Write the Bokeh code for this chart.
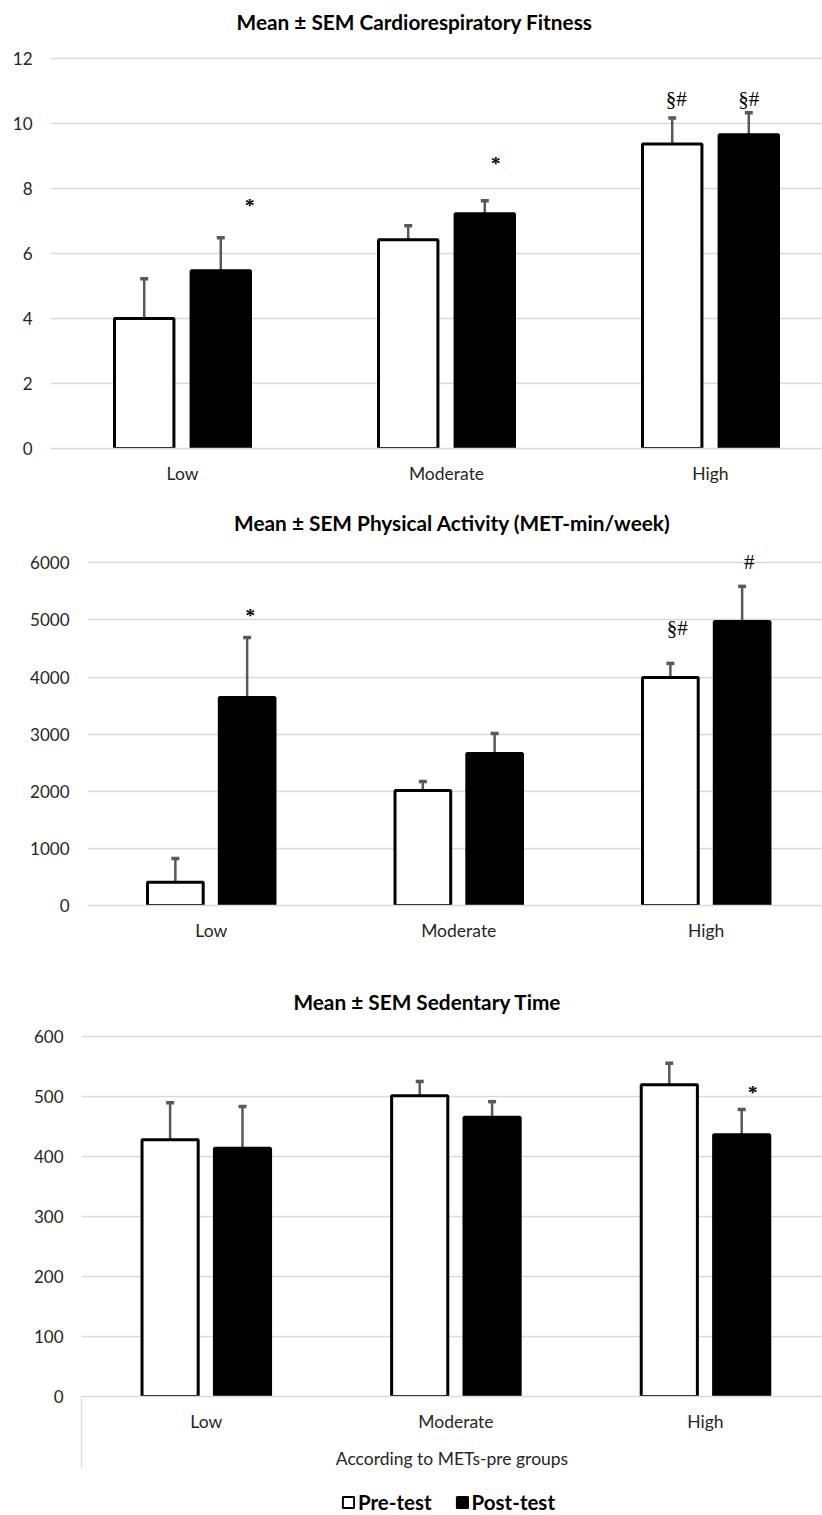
from bokeh.plotting import figure
from bokeh.models import (Range1d, FixedTicker, ColumnDataSource,
                          Whisker, TeeHead, Legend, LegendItem, LabelSet, Label)
from bokeh.embed import file_html
from bokeh.resources import INLINE

# ---------------- data ----------------
groups = ["Low", "Moderate", "High"]
series = ["Pre-test", "Post-test"]

crf_pre = [4.00, 6.43, 9.38]
crf_pre_sem = [1.23, 0.43, 0.80]
crf_post = [5.47, 7.23, 9.66]
crf_post_sem = [1.02, 0.40, 0.68]

pa_pre = [408, 2014, 3993]
pa_pre_sem = [414, 158, 245]
pa_post = [3643, 2662, 4974]
pa_post_sem = [1050, 350, 613]

sed_pre = [427.5, 501, 519]
sed_pre_sem = [61.5, 23.6, 36]
sed_post = [413.5, 465, 436]
sed_post_sem = [69.5, 26, 42]

# y-axis ticks
crf_ticks = [0, 2, 4, 6, 8, 10, 12]
pa_ticks = [0, 1000, 2000, 3000, 4000, 5000, 6000]
sed_ticks = [0, 100, 200, 300, 400, 500, 600]

# significance marks: text, group, series, height (data units)
crf_mark_text = ["*", "*", "§#", "§#"]
crf_mark_group = ["Low", "Moderate", "High", "High"]
crf_mark_series = ["Post-test", "Post-test", "Pre-test", "Post-test"]
crf_mark_y = [7.53, 8.83, 10.77, 10.77]

pa_mark_text = ["*", "§#", "#"]
pa_mark_group = ["Low", "High", "High"]
pa_mark_series = ["Post-test", "Pre-test", "Post-test"]
pa_mark_y = [5114, 4851, 6007]

sed_mark_text = ["*"]
sed_mark_group = ["High"]
sed_mark_series = ["Post-test"]
sed_mark_y = [509.5]

titles = ["Mean \u00b1 SEM Cardiorespiratory Fitness",
          "Mean \u00b1 SEM Physical Activity (MET-min/week)",
          "Mean \u00b1 SEM Sedentary Time"]
x_axis_title = "According to METs-pre groups"

# ---------------- styling ----------------
FONT = "Lato"
TXT = "#262626"
GRID = "#d9d9d9"
ERR = "#595959"
BAR_W = 0.225
DODGE = 0.145
SERIES_OFF = {"Pre-test": -DODGE, "Post-test": DODGE}
SERIES_FILL = {"Pre-test": "white", "Post-test": "black"}
PAGE_W = 822


def make_chart(title, pre, pre_sem, post, post_sem, ticks, marks, mark_dx,
               left, height, max_px, zero_px, px_per_cat, title_cx, title_rise,
               bottom_axis_title=False):
    # the plotting frame reaches the top of the figure so that the title and
    # the marks above the bars are inside it; max_px / zero_px are the pixel
    # rows (from the figure top) of the highest tick and of zero.
    fw = PAGE_W - left
    y_max = ticks[-1]
    y_top = y_max * zero_px / (zero_px - max_px)
    p = figure(frame_width=fw, frame_height=zero_px, output_backend="svg",
               toolbar_location=None,
               x_range=Range1d(0, fw / px_per_cat), y_range=Range1d(0, y_top),
               min_border_left=left, min_border_right=0, min_border_top=0,
               min_border_bottom=height - zero_px)
    p.outline_line_color = None
    p.background_fill_color = "white"
    p.border_fill_color = "white"

    p.add_layout(Label(x=(title_cx - left) / px_per_cat, y=y_max, y_offset=title_rise,
                       text=title, text_align="center", text_baseline="middle",
                       text_font=FONT, text_font_style="bold", text_font_size="20.8px",
                       text_color="#000000"))

    renderers = {}
    for name, vals, sems in (("Pre-test", pre, pre_sem), ("Post-test", post, post_sem)):
        xs = [i + 0.5 + SERIES_OFF[name] for i in range(len(groups))]
        src = ColumnDataSource(dict(x=xs, top=vals,
                                    upper=[v + s for v, s in zip(vals, sems)]))
        r = p.vbar(x="x", top="top", bottom=0, width=BAR_W, source=src,
                   fill_color=SERIES_FILL[name], line_color="black", line_width=3)
        renderers[name] = r
        w = Whisker(source=src, base="x", lower="top", upper="upper", dimension="height",
                    line_color=ERR, line_width=2.5, lower_head=None,
                    upper_head=TeeHead(size=8, line_color=ERR, line_width=3.5))
        p.add_layout(w)

    mt, mg, ms, my = marks
    for star in (True, False):
        idx = [k for k, t in enumerate(mt) if (t == "*") == star]
        if not idx:
            continue
        src = ColumnDataSource(dict(
            x=[groups.index(mg[k]) + 0.5 + SERIES_OFF[ms[k]] for k in idx],
            y=[my[k] for k in idx], text=[mt[k] for k in idx],
            dx=[mark_dx[k] for k in idx]))
        p.add_layout(LabelSet(x="x", y="y", text="text", x_offset="dx",
                              y_offset=-2 if star else 0, source=src,
                              text_align="center", text_baseline="middle",
                              text_font="DejaVu Sans",
                              text_font_style="bold" if star else "normal",
                              text_font_size="19px" if star else "21px",
                              text_color="#000000"))

    yt = FixedTicker(ticks=ticks)
    p.yaxis.ticker = yt
    p.ygrid.ticker = yt
    p.ygrid.grid_line_color = GRID
    p.ygrid.grid_line_width = 1.3
    p.xgrid.grid_line_color = None
    p.yaxis.axis_line_color = None
    p.yaxis.major_tick_line_color = None
    p.yaxis.minor_tick_line_color = None
    p.yaxis.major_label_standoff = 12
    p.yaxis.major_label_text_font = FONT
    p.yaxis.major_label_text_font_size = "17px"
    p.yaxis.major_label_text_color = TXT

    xt = FixedTicker(ticks=[i + 0.5 for i in range(len(groups))],
                     minor_ticks=[0.0] if bottom_axis_title else [])
    p.xaxis.ticker = xt
    p.xaxis.major_label_overrides = {i + 0.5: g for i, g in enumerate(groups)}
    p.xaxis.major_tick_line_color = None
    p.xaxis.major_tick_out = 0
    p.xaxis.major_tick_in = 0
    p.xaxis.axis_line_color = GRID
    p.xaxis.axis_line_width = 1.3
    p.xaxis.major_label_standoff = 14
    p.xaxis.major_label_text_font = FONT
    p.xaxis.major_label_text_font_size = "17.5px"
    p.xaxis.major_label_text_color = TXT
    if bottom_axis_title:
        p.xaxis.minor_tick_line_color = GRID
        p.xaxis.minor_tick_line_width = 1.3
        p.xaxis.minor_tick_out = 72
        p.xaxis.minor_tick_in = 0
        p.xaxis.major_label_standoff = 14 - 72
        p.xaxis.axis_label = x_axis_title
        p.xaxis.axis_label_text_font = FONT
        p.xaxis.axis_label_text_font_style = "normal"
        p.xaxis.axis_label_text_font_size = "17.5px"
        p.xaxis.axis_label_text_color = TXT
        p.xaxis.axis_label_standoff = 13
    else:
        p.xaxis.minor_tick_line_color = None
    return p, renderers


p1, _ = make_chart(titles[0], crf_pre, crf_pre_sem, crf_post, crf_post_sem, crf_ticks,
                   (crf_mark_text, crf_mark_group, crf_mark_series, crf_mark_y),
                   mark_dx=[29, 11, 4, 0],
                   left=50, height=500, max_px=58.3, zero_px=448, px_per_cat=264.0,
                   title_cx=414, title_rise=37.5)
p2, _ = make_chart(titles[1], pa_pre, pa_pre_sem, pa_post, pa_post_sem, pa_ticks,
                   (pa_mark_text, pa_mark_group, pa_mark_series, pa_mark_y),
                   mark_dx=[3, 7, 7],
                   left=87, height=475, max_px=62.3, zero_px=405, px_per_cat=247.5,
                   title_cx=452, title_rise=40.5)
p3, _ = make_chart(titles[2], sed_pre, sed_pre_sem, sed_post, sed_post_sem, sed_ticks,
                   (sed_mark_text, sed_mark_group, sed_mark_series, sed_mark_y),
                   mark_dx=[11],
                   left=81, height=500, max_px=60.7, zero_px=421, px_per_cat=249.6,
                   title_cx=427, title_rise=35, bottom_axis_title=True)

# legend strip below the last chart; its swatch renderers are hidden, so only
# the legend entries show
p4 = figure(frame_width=PAGE_W, frame_height=40, output_backend="svg",
            toolbar_location=None, x_range=Range1d(0, 1), y_range=Range1d(0, 1),
            min_border_left=0, min_border_right=0, min_border_top=0, min_border_bottom=0)
p4.axis.visible = False
p4.grid.visible = False
p4.outline_line_color = None
leg_r = {}
for s in series:
    r = p4.vbar(x=[-1], top=[-1], bottom=[-1], width=0.1, fill_color=SERIES_FILL[s],
                line_color="black", line_width=2)
    r.visible = False
    leg_r[s] = r
legend = Legend(items=[LegendItem(label=s, renderers=[leg_r[s]]) for s in series],
                orientation="horizontal", location=(341, 1),
                glyph_width=14, glyph_height=14, label_standoff=3, spacing=23,
                label_text_font=FONT, label_text_font_style="bold",
                label_text_font_size="20.5px", label_text_color="#000000",
                inactive_fill_alpha=0,
                border_line_color=None, background_fill_alpha=0, padding=2, margin=0)
p4.add_layout(legend, "center")

open("out.html", "w").write(file_html([p1, p2, p3, p4], INLINE))
